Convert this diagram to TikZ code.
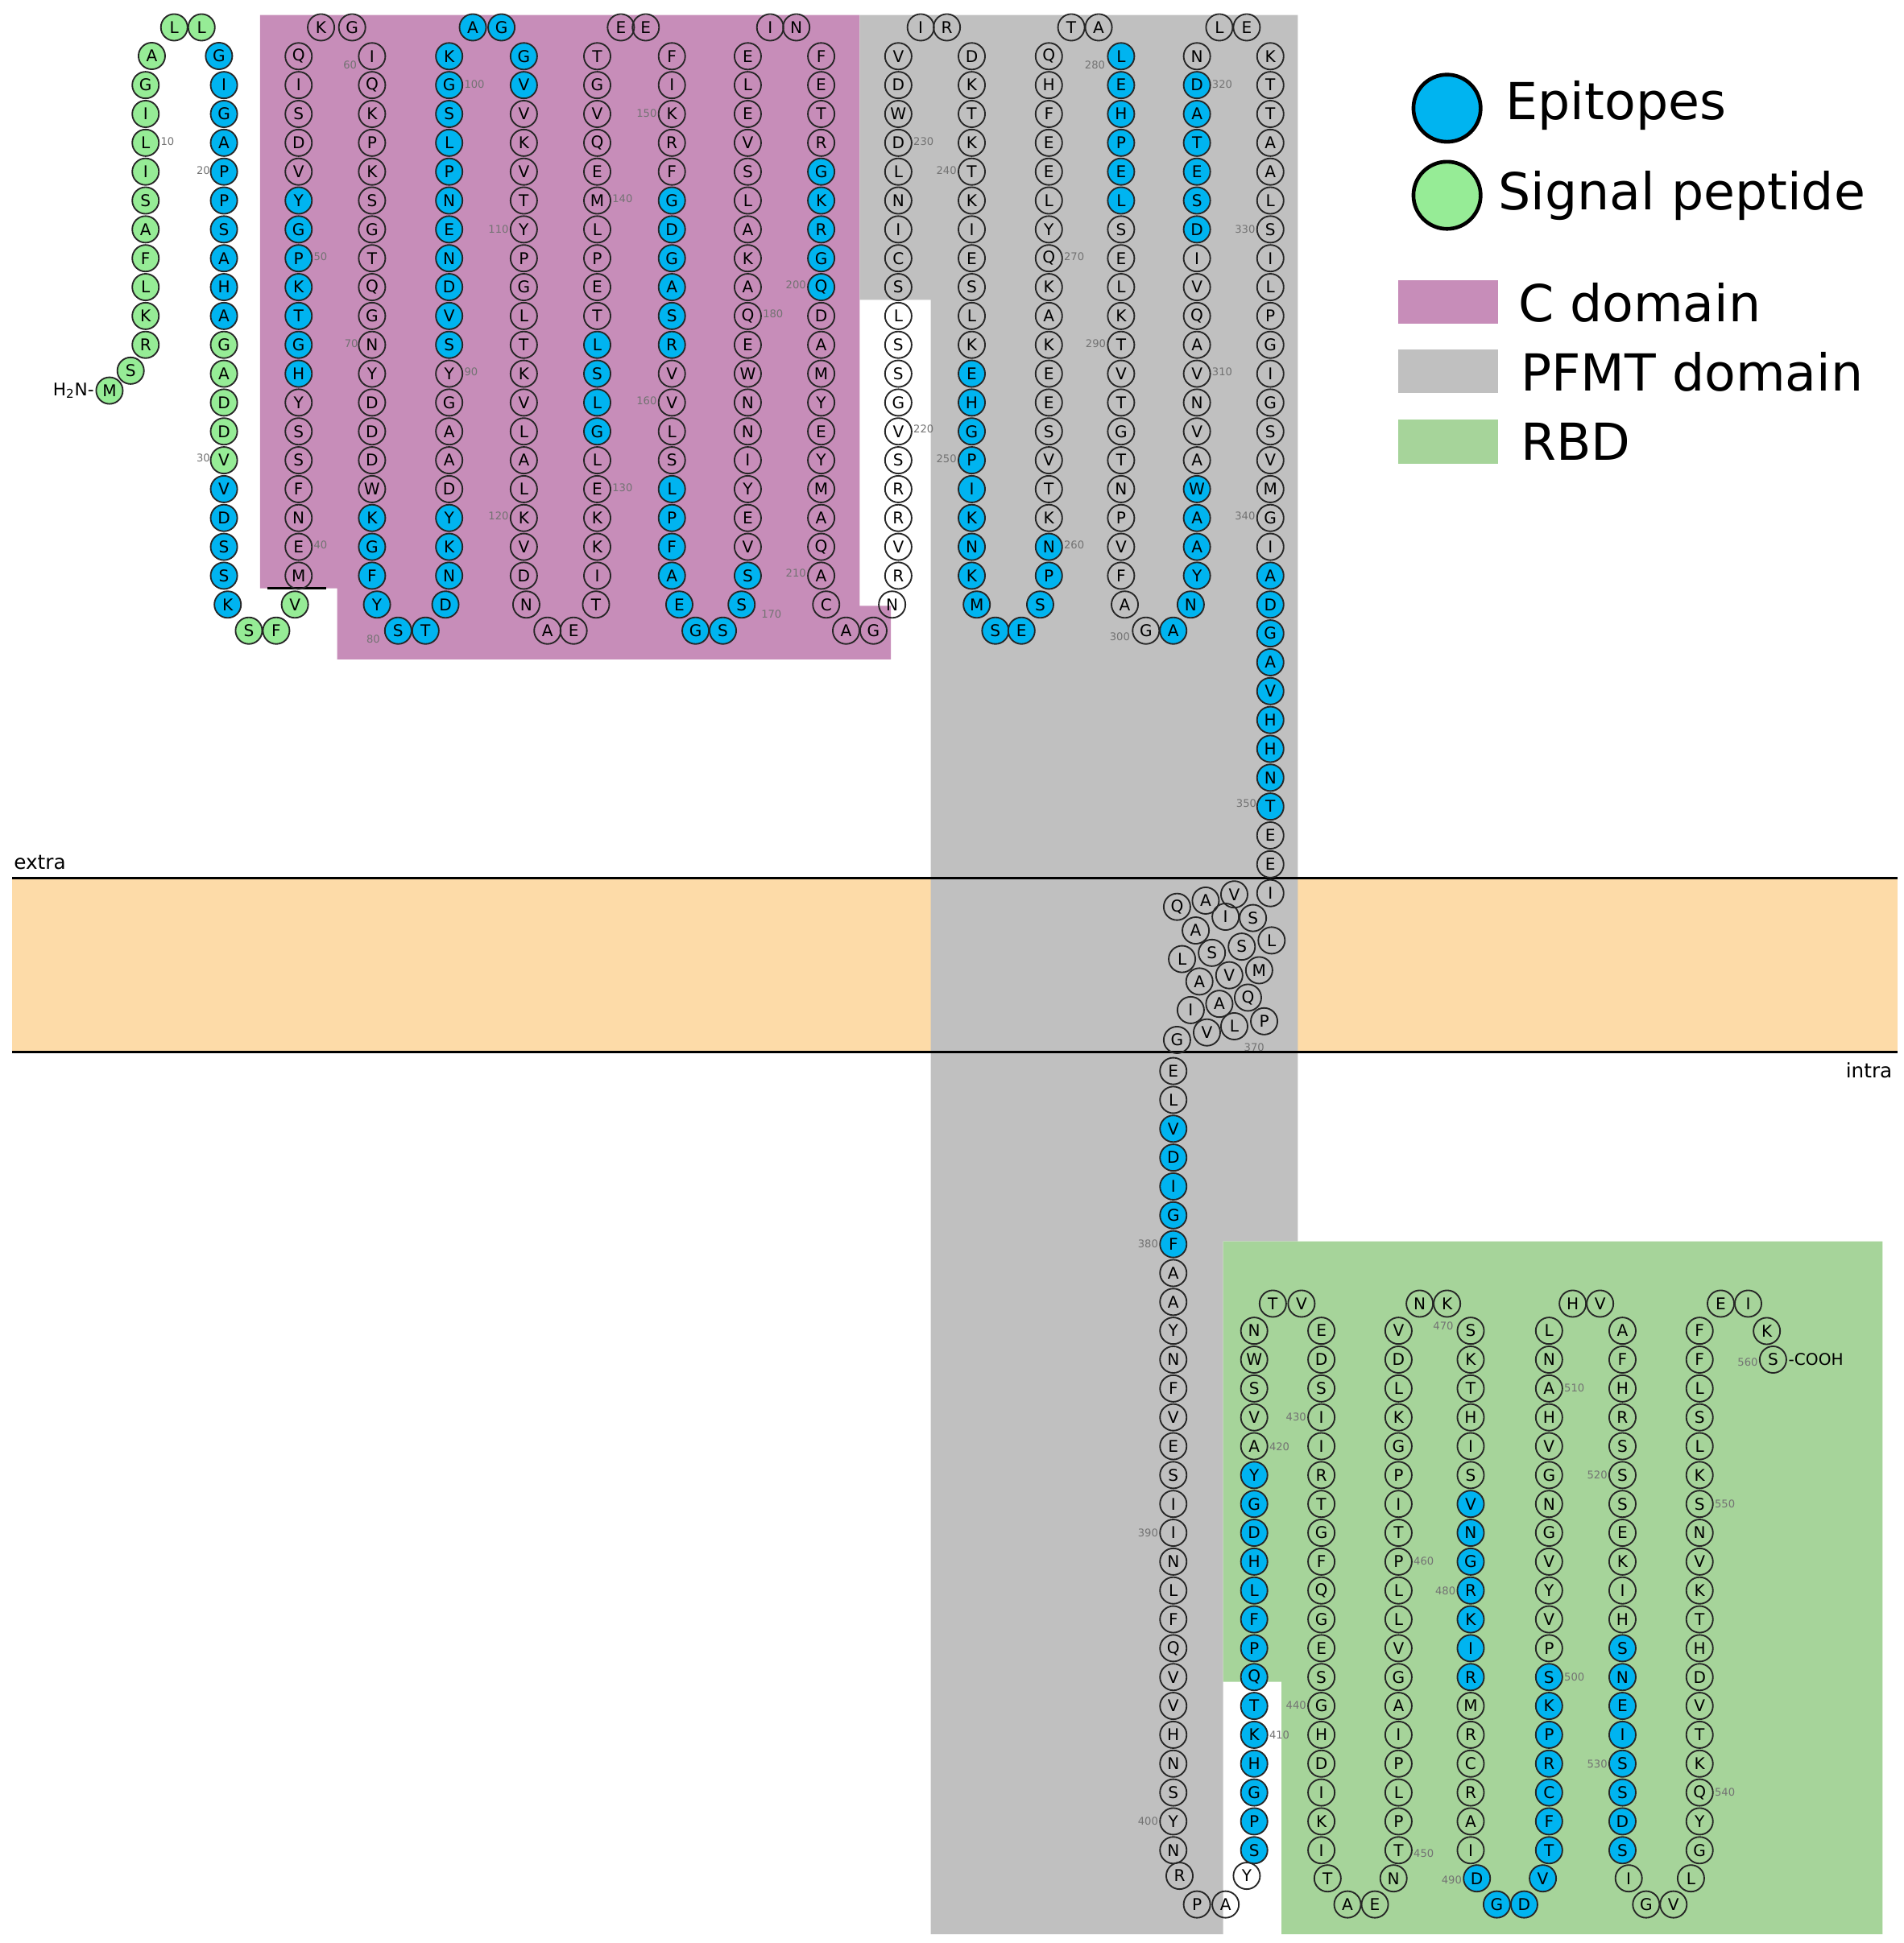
\documentclass[tikz,border=0pt]{standalone}
\usepackage{fontspec}
\setmainfont{DejaVu Sans}
\definecolor{epi}{RGB}{0,180,240}
\definecolor{sig}{RGB}{150,236,150}
\definecolor{pinkc}{RGB}{199,141,185}
\definecolor{greyc}{RGB}{192,192,192}
\definecolor{rbd}{RGB}{166,212,154}
\definecolor{peach}{RGB}{253,219,168}
\newcount\resn
\tikzset{
 res/.style={circle,draw=black!85,line width=1.2pt,minimum size=21.4pt,inner sep=0pt,font=\fontsize{13}{13}\selectfont},
 rw/.style={}, rb/.style={fill=epi}, rg/.style={fill=sig},
 num/.style={font=\fontsize{8.5}{9}\selectfont,text=black!55,inner sep=0pt},
 leg/.style={font=\fontsize{41}{44}\selectfont,anchor=west,inner sep=0pt}
}
\newcommand\res[4]{\global\advance\resn by 1 \node[res,#4] (r\the\resn) at (#1,#2) {#3};}
\newcommand\tcol[3]{\foreach \l/\c [count=\i from 0] in {#3}{\pgfmathsetmacro\yy{22+23.2*(#2+\i)}\global\advance\resn by 1 \node[res,\c] (r\the\resn) at (#1,\yy) {\l};}}
\newcommand\bcol[3]{\foreach \l/\c [count=\i from 0] in {#3}{\pgfmathsetmacro\yy{861+23.2*(#2+\i)}\global\advance\resn by 1 \node[res,\c] (r\the\resn) at (#1,\yy) {\l};}}
\newcommand\lab[3]{\node[num,anchor=#3] (n#1) at (#2) {#1};}
\begin{document}
\begin{tikzpicture}[x=1pt,y=-1pt]
\useasboundingbox (0,0) rectangle (1530,1562);
% backgrounds
\fill[peach] (10,706) rectangle (1525,846);
\fill[pinkc] (209,12) -- (691,12) -- (691,487) -- (716,487) -- (716,530) -- (271,530) -- (271,473) -- (209,473) -- cycle;
\fill[greyc] (691,12) -- (1043,12) -- (1043,998) -- (983,998) -- (983,1555) -- (748,1555) -- (748,241) -- (691,241) -- cycle;
\fill[rbd] (983,998) -- (1513,998) -- (1513,1555) -- (1030,1555) -- (1030,1352) -- (983,1352) -- cycle;
\draw[line width=2pt] (10,706) coordinate (m1) -- (1525,706) coordinate (m2);
\draw[line width=2pt] (10,846) coordinate (m3) -- (1525,846) coordinate (m4);
\draw[line width=1.8pt] (215,473) coordinate (b1) -- (262,473) coordinate (b2);
\node[font=\fontsize{16}{16}\selectfont,anchor=south west,inner sep=1pt] (extra) at (10,700) {extra};
\node[font=\fontsize{16}{16}\selectfont,anchor=north east,inner sep=1pt] (intra) at (1522,853) {intra};
% ---- signal peptide
\res{88}{314}{M}{rg}
\res{105}{298}{S}{rg}
\tcol{117}{2}{G/rg,I/rg,L/rg,I/rg,S/rg,A/rg,F/rg,L/rg,K/rg,R/rg}
\res{122}{45}{A}{rg}\res{140}{22}{L}{rg}\res{162}{22}{L}{rg}
\res{176}{45}{G}{rb}
\tcol{180}{2}{I/rb,G/rb,A/rb,P/rb,P/rb,S/rb,A/rb,H/rb,A/rb,G/rg,A/rg,D/rg,D/rg,V/rg,V/rb,D/rb,S/rb,S/rb}
\res{183}{486}{K}{rb}\res{200}{507}{S}{rg}\res{222}{507}{F}{rg}\res{237}{486}{V}{rg}
\tcol{240}{1}{Q/rw,I/rw,S/rw,D/rw,V/rw,Y/rb,G/rb,P/rb,K/rb,T/rb,G/rb,H/rb,Y/rw,S/rw,S/rw,F/rw,N/rw,E/rw,M/rw}
\res{258}{22}{K}{rw}\res{283}{22}{G}{rw}
\tcol{299}{1}{I/rw,Q/rw,K/rw,P/rw,K/rw,S/rw,G/rw,T/rw,Q/rw,G/rw,N/rw,Y/rw,D/rw,D/rw,D/rw,W/rw,K/rb,G/rb,F/rb}
\res{303}{486}{Y}{rb}\res{320}{507}{S}{rb}\res{342}{507}{T}{rb}\res{358}{486}{D}{rb}
\tcol{361}{1}{K/rb,G/rb,S/rb,L/rb,P/rb,N/rb,E/rb,N/rb,D/rb,V/rb,S/rb,Y/rw,G/rw,A/rw,A/rw,D/rw,Y/rb,K/rb,N/rb}
\res{380}{22}{A}{rb}\res{403}{22}{G}{rb}
\tcol{421}{1}{G/rb,V/rb,V/rw,K/rw,V/rw,T/rw,Y/rw,P/rw,G/rw,L/rw,T/rw,K/rw,V/rw,L/rw,A/rw,L/rw,K/rw,V/rw,D/rw}
\res{423}{486}{N}{rw}\res{440}{507}{A}{rw}\res{461}{507}{E}{rw}\res{479}{486}{T}{rw}
\tcol{480}{1}{T/rw,G/rw,V/rw,Q/rw,E/rw,M/rw,L/rw,P/rw,E/rw,T/rw,L/rb,S/rb,L/rb,G/rb,L/rw,E/rw,K/rw,K/rw,I/rw}
\res{499}{22}{E}{rw}\res{519}{22}{E}{rw}
\tcol{540}{1}{F/rw,I/rw,K/rw,R/rw,F/rw,G/rb,D/rb,G/rb,A/rb,S/rb,R/rb,V/rw,V/rw,L/rw,S/rw,L/rb,P/rb,F/rb,A/rb}
\res{546}{486}{E}{rb}\res{559}{507}{G}{rb}\res{581}{507}{S}{rb}\res{596}{486}{S}{rb}
\tcol{601}{1}{E/rw,L/rw,E/rw,V/rw,S/rw,L/rw,A/rw,K/rw,A/rw,Q/rw,E/rw,W/rw,N/rw,N/rw,I/rw,Y/rw,E/rw,V/rw,S/rb}
\res{619}{22}{I}{rw}\res{640}{22}{N}{rw}
\tcol{660}{1}{F/rw,E/rw,T/rw,R/rw,G/rb,K/rb,R/rb,G/rb,Q/rb,D/rw,A/rw,M/rw,Y/rw,E/rw,Y/rw,M/rw,A/rw,Q/rw,A/rw}
\res{664}{486}{C}{rw}\res{680}{507}{A}{rw}\res{702}{507}{G}{rw}\res{717}{486}{N}{rw}
\tcol{722}{1}{V/rw,D/rw,W/rw,D/rw,L/rw,N/rw,I/rw,C/rw,S/rw,L/rw,S/rw,S/rw,G/rw,V/rw,S/rw,R/rw,R/rw,V/rw,R/rw}
\res{740}{22}{I}{rw}\res{761}{22}{R}{rw}
\tcol{781}{1}{D/rw,K/rw,T/rw,K/rw,T/rw,K/rw,I/rw,E/rw,S/rw,L/rw,K/rw,E/rb,H/rb,G/rb,P/rb,I/rb,K/rb,N/rb,K/rb}
\res{785}{486}{M}{rb}\res{800}{507}{S}{rb}\res{821}{507}{E}{rb}\res{836}{486}{S}{rb}
\tcol{843}{1}{Q/rw,H/rw,F/rw,E/rw,E/rw,L/rw,Y/rw,Q/rw,K/rw,A/rw,K/rw,E/rw,E/rw,S/rw,V/rw,T/rw,K/rw,N/rb,P/rb}
\res{861}{22}{T}{rw}\res{883}{22}{A}{rw}
\tcol{901}{1}{L/rb,E/rb,H/rb,P/rb,E/rb,L/rb,S/rw,E/rw,L/rw,K/rw,T/rw,V/rw,T/rw,G/rw,T/rw,N/rw,P/rw,V/rw,F/rw}
\res{904}{486}{A}{rw}\res{921}{507}{G}{rw}\res{943}{507}{A}{rb}\res{957}{486}{N}{rb}
\tcol{962}{1}{N/rw,D/rb,A/rb,T/rb,E/rb,S/rb,D/rb,I/rw,V/rw,Q/rw,A/rw,V/rw,N/rw,V/rw,A/rw,W/rb,A/rb,A/rb,Y/rb}
\res{980}{22}{L}{rw}\res{1002}{22}{E}{rw}
\tcol{1021}{1}{K/rw,T/rw,T/rw,A/rw,A/rw,L/rw,S/rw,I/rw,L/rw,P/rw,G/rw,I/rw,G/rw,S/rw,V/rw,M/rw,G/rw,I/rw,A/rb,D/rb,G/rb,A/rb,V/rb,H/rb,H/rb,N/rb,T/rb,E/rw,E/rw,I/rw}
% ---- membrane helix
\res{992}{719}{V}{rw}\res{969}{724}{A}{rw}\res{946}{729}{Q}{rw}
\res{1007}{738}{S}{rw}\res{985}{737}{I}{rw}\res{961}{748}{A}{rw}
\res{1022}{756}{L}{rw}\res{998}{761}{S}{rw}\res{974}{766}{S}{rw}\res{950}{771}{L}{rw}
\res{1012}{780}{M}{rw}\res{988}{784}{V}{rw}\res{964}{789}{A}{rw}
\res{1003}{802}{Q}{rw}\res{980}{807}{A}{rw}\res{957}{812}{I}{rw}
\res{1016}{821}{P}{rw}\res{992}{825}{L}{rw}\res{970}{830}{V}{rw}\res{946}{836}{G}{rw}
% ---- intracellular
\bcol{943}{0}{E/rw,L/rw,V/rb,D/rb,I/rb,G/rb,F/rb,A/rw,A/rw,Y/rw,N/rw,F/rw,V/rw,E/rw,S/rw,I/rw,I/rw,N/rw,L/rw,F/rw,Q/rw,V/rw,V/rw,H/rw,N/rw,S/rw,Y/rw,N/rw}
\res{948}{1508}{R}{rw}\res{962}{1531}{P}{rw}\res{985}{1531}{A}{rw}\res{1002}{1508}{Y}{rw}
\bcol{1008}{9}{N/rw,W/rw,S/rw,V/rw,A/rw,Y/rb,G/rb,D/rb,H/rb,L/rb,F/rb,P/rb,Q/rb,T/rb,K/rb,H/rb,G/rb,P/rb,S/rb}
\res{1023}{1048}{T}{rw}\res{1046}{1048}{V}{rw}
\bcol{1062}{9}{E/rw,D/rw,S/rw,I/rw,I/rw,R/rw,T/rw,G/rw,F/rw,Q/rw,G/rw,E/rw,S/rw,G/rw,H/rw,D/rw,I/rw,K/rw,I/rw}
\res{1067}{1510}{T}{rw}\res{1083}{1531}{A}{rw}\res{1105}{1531}{E}{rw}\res{1120}{1510}{N}{rw}
\bcol{1124}{9}{V/rw,D/rw,L/rw,K/rw,G/rw,P/rw,I/rw,T/rw,P/rw,L/rw,L/rw,V/rw,G/rw,A/rw,I/rw,P/rw,L/rw,P/rw,T/rw}
\res{1141}{1048}{N}{rw}\res{1163}{1048}{K}{rw}
\bcol{1182}{9}{S/rw,K/rw,T/rw,H/rw,I/rw,S/rw,V/rb,N/rb,G/rb,R/rb,K/rb,I/rb,R/rb,M/rw,R/rw,C/rw,R/rw,A/rw,I/rw}
\res{1187}{1510}{D}{rb}\res{1203}{1531}{G}{rb}\res{1225}{1531}{D}{rb}\res{1240}{1510}{V}{rb}
\bcol{1245}{9}{L/rw,N/rw,A/rw,H/rw,V/rw,G/rw,N/rw,G/rw,V/rw,Y/rw,V/rw,P/rw,S/rb,K/rb,P/rb,R/rb,C/rb,F/rb,T/rb}
\res{1264}{1048}{H}{rw}\res{1286}{1048}{V}{rw}
\bcol{1304}{9}{A/rw,F/rw,H/rw,R/rw,S/rw,S/rw,S/rw,E/rw,K/rw,I/rw,H/rw,S/rb,N/rb,E/rb,I/rb,S/rb,S/rb,D/rb,S/rb}
\res{1309}{1510}{I}{rw}\res{1323}{1531}{G}{rw}\res{1345}{1531}{V}{rw}\res{1359}{1510}{L}{rw}
\bcol{1366}{9}{F/rw,F/rw,L/rw,S/rw,L/rw,K/rw,S/rw,N/rw,V/rw,K/rw,T/rw,H/rw,D/rw,V/rw,T/rw,K/rw,Q/rw,Y/rw,G/rw}
\res{1383}{1048}{E}{rw}\res{1405}{1048}{I}{rw}\res{1420}{1070}{K}{rw}\res{1425}{1093}{S}{rw}
\node[anchor=west,inner sep=1pt,font=\fontsize{13}{13}\selectfont] (cooh) at (r\the\resn.east) {-COOH};
\node[anchor=east,inner sep=1pt,font=\fontsize{14}{14}\selectfont] (h2n) at (r1.west) {H\textsubscript{2}N-};
% ---- numbers
\lab{10}{129,114}{west}\lab{20}{169,137}{east}\lab{30}{169,368}{east}
\lab{40}{252,438}{west}\lab{50}{252,206}{west}\lab{60}{287,52}{east}
\lab{70}{288,276}{east}\lab{80}{300,514}{center}\lab{90}{373,299}{west}
\lab{100}{373,68}{west}\lab{110}{409,184}{east}\lab{120}{409,415}{east}
\lab{130}{492,392}{west}\lab{140}{492,160}{west}\lab{150}{528,91}{east}
\lab{160}{528,322}{east}\lab{170}{620,494}{center}\lab{180}{613,252}{west}
\lab{200}{648,229}{east}\lab{210}{648,461}{east}\lab{220}{734,345}{west}
\lab{230}{734,114}{west}\lab{240}{769,137}{east}\lab{250}{769,369}{east}
\lab{260}{855,438}{west}\lab{270}{855,206}{west}\lab{280}{880,52}{center}
\lab{290}{889,276}{east}\lab{300}{900,512}{center}\lab{310}{974,299}{west}
\lab{320}{974,68}{west}\lab{330}{1009,184}{east}\lab{340}{1009,415}{east}
\lab{350}{1010,646}{east}\lab{370}{1008,842}{center}
\lab{380}{931,1000}{east}\lab{390}{931,1232}{east}\lab{400}{931,1464}{east}
\lab{410}{1020,1395}{west}\lab{420}{1020,1163}{west}\lab{430}{1050,1139}{east}
\lab{440}{1050,1371}{east}\lab{450}{1136,1490}{west}\lab{460}{1136,1255}{west}
\lab{470}{1160,1066}{center}\lab{480}{1170,1279}{east}\lab{490}{1175,1511}{east}
\lab{500}{1257,1348}{west}\lab{510}{1257,1116}{west}\lab{520}{1292,1186}{east}
\lab{530}{1292,1418}{east}\lab{540}{1378,1441}{west}\lab{550}{1378,1209}{west}
\lab{560}{1413,1095}{east}
% ---- legend
\node[circle,draw=black,line width=3pt,fill=epi,minimum size=54pt] (le) at (1163,87) {};
\node[circle,draw=black,line width=3pt,fill=sig,minimum size=54pt] (ls) at (1163,157) {};
\node[leg] (tle) at (1210,85) {Epitopes};
\node[leg] (tls) at (1204,157) {Signal peptide};
\fill[pinkc] (1124,225) rectangle (1204,260);
\fill[greyc] (1124,281) rectangle (1204,316);
\fill[rbd] (1124,337) rectangle (1204,373);
\node[leg] (tc) at (1220,243) {C domain};
\node[leg] (tp) at (1222,299) {PFMT domain};
\node[leg] (tr) at (1222,355) {RBD};
\end{tikzpicture}
\end{document}
